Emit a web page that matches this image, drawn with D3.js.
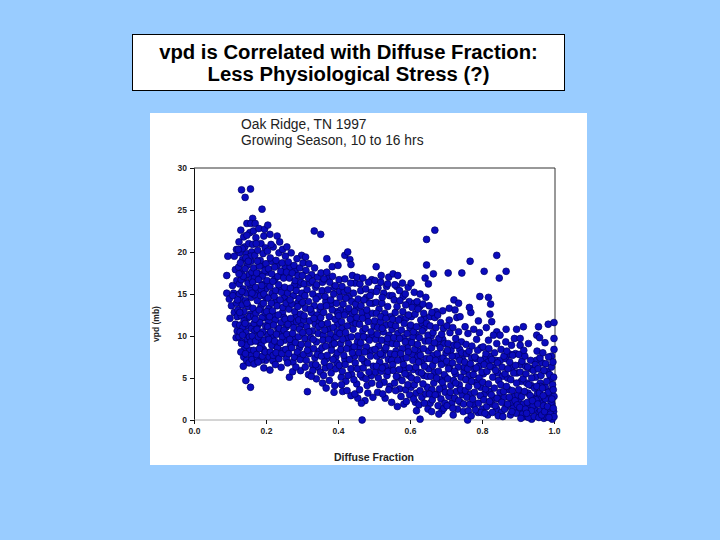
<!DOCTYPE html>
<html><head><meta charset="utf-8">
<script src="https://cdn.jsdelivr.net/npm/d3@7"></script>
<style>
html,body{margin:0;padding:0;background:#99ccff;}
svg{display:block;}
</style></head>
<body>
<svg id="c" width="720" height="540"></svg>
<script>
const titleLines = ["vpd is Correlated with Diffuse Fraction:", "Less Physiological Stress (?)"];
const subtitleLines = ["Oak Ridge, TN 1997", "Growing Season, 10 to 16 hrs"];
const xTicks = [0, 0.2, 0.4, 0.6, 0.8, 1.0];
const yTicks = [0, 5, 10, 15, 20, 25, 30];
const xLabel = "Diffuse Fraction";
const yLabel = "vpd (mb)";

// [diffuse fraction, vpd] pairs grouped by diffuse-fraction band
const band10 = [[0.091,17.2],[0.094,19.5],[0.112,19.5],[0.107,16.0],[0.091,15.1],[0.11,15.1],[0.098,14.4],[0.104,13.6],[0.112,12.8],[0.1,12.1],[0.115,11.4],[0.108,14.8],[0.118,13.9],[0.119,16.6],[0.115,17.9],[0.118,20.3],[0.12,10.6],[0.117,9.8],[0.12,12.3]];
const band12 = [[0.132,27.4],[0.157,27.5],[0.142,26.5],[0.163,24.0],[0.147,23.4],[0.158,23.4],[0.144,4.7],[0.157,3.9],[0.137,6.4],
[0.125,21.2],[0.13,22.6],[0.138,21.8],[0.141,20.6],[0.128,19.9],[0.135,19.1],[0.146,19.8],[0.152,21.0],[0.155,22.3],[0.148,18.4],[0.124,18.2],[0.132,17.5],[0.14,16.9],[0.153,17.3],[0.158,18.9],[0.126,16.2],[0.137,15.6],[0.145,15.1],[0.156,15.9],[0.129,14.5],[0.134,13.7],[0.143,14.2],[0.151,13.5],[0.159,14.6],[0.122,13.1],[0.131,12.4],[0.139,12.9],[0.148,12.1],[0.157,12.6],[0.127,11.3],[0.136,11.0],[0.144,10.4],[0.152,11.2],[0.16,10.9],[0.125,9.9],[0.133,9.3],[0.141,8.6],[0.149,9.6],[0.155,8.3],[0.13,8.1],[0.138,7.5],[0.146,7.1],[0.153,6.8],[0.159,7.7],[0.128,10.5],[0.15,16.3],[0.142,18.0],[0.134,20.4],[0.147,22.0],[0.126,15.0],[0.16,20.0],[0.16,16.8],[0.139,11.8],[0.154,9.9],[0.131,16.7],[0.157,19.5]];
const band16 = [[0.189,25.1],[0.17,23.4],[0.194,21.9],[0.167,6.67],[0.188,7.14],[0.194,6.2],
[0.165,22.5],[0.172,21.7],[0.18,22.8],[0.186,21.0],[0.198,20.5],[0.163,20.9],[0.169,19.6],[0.177,20.2],[0.184,19.0],[0.192,19.8],[0.2,18.6],[0.166,18.1],[0.174,17.5],[0.182,18.3],[0.19,17.1],[0.197,17.8],[0.163,16.4],[0.171,15.8],[0.179,16.7],[0.187,15.5],[0.195,16.2],[0.168,14.9],[0.176,14.2],[0.185,14.8],[0.193,13.9],[0.2,14.6],[0.164,13.3],[0.172,12.7],[0.181,13.1],[0.189,12.2],[0.197,12.8],[0.167,11.5],[0.175,10.8],[0.183,11.6],[0.191,10.5],[0.199,11.2],[0.162,10.0],[0.171,9.4],[0.179,9.9],[0.187,8.9],[0.195,9.5],[0.166,8.3],[0.174,7.8],[0.182,8.5],[0.19,7.6],[0.198,8.1],[0.178,6.9],[0.17,12.0],[0.188,16.0],[0.176,18.9],[0.194,15.0],[0.161,15.1],[0.185,10.2],[0.173,21.0],[0.196,22.7]];
const band20 = [[0.205,23.2],[0.231,21.9],[0.211,22.1],[0.209,7.5],[0.219,7.06],[0.211,5.95],[0.242,6.27],
[0.204,20.1],[0.212,19.3],[0.22,20.6],[0.228,19.0],[0.236,19.9],[0.245,18.7],[0.207,18.0],[0.216,17.4],[0.224,18.2],[0.233,17.1],[0.241,17.7],[0.249,16.9],[0.203,16.6],[0.211,15.9],[0.219,16.5],[0.227,15.4],[0.235,16.1],[0.243,15.2],[0.206,14.5],[0.215,13.9],[0.223,14.7],[0.231,13.6],[0.239,14.3],[0.247,13.4],[0.202,12.9],[0.21,12.3],[0.218,13.0],[0.226,11.9],[0.234,12.5],[0.242,11.6],[0.25,12.2],[0.205,11.1],[0.213,10.5],[0.221,11.3],[0.229,10.2],[0.237,10.9],[0.245,9.9],[0.208,9.6],[0.216,8.9],[0.224,9.4],[0.232,8.6],[0.24,9.2],[0.248,8.3],[0.212,8.1],[0.22,7.7],[0.228,8.0],[0.236,7.3],[0.244,7.9],[0.226,6.6],[0.25,10.7],[0.214,20.9],[0.238,21.2],[0.246,20.3]];
const band25 = [[0.265,5.1],[0.274,5.75],[0.296,5.87],[0.299,19.6],
[0.254,19.5],[0.262,18.8],[0.27,19.9],[0.278,18.4],[0.286,19.2],[0.294,18.1],[0.257,17.6],[0.265,16.9],[0.273,17.5],[0.281,16.6],[0.289,17.2],[0.297,16.4],[0.252,15.8],[0.26,15.1],[0.268,15.7],[0.276,14.8],[0.284,15.4],[0.292,14.5],[0.3,15.1],[0.256,13.9],[0.264,13.2],[0.272,13.8],[0.28,12.9],[0.288,13.5],[0.296,12.6],[0.253,12.0],[0.261,11.4],[0.269,12.1],[0.277,11.0],[0.285,11.7],[0.293,10.8],[0.258,10.2],[0.266,9.6],[0.274,10.3],[0.282,9.2],[0.29,9.9],[0.298,9.0],[0.255,8.4],[0.263,7.9],[0.271,8.6],[0.279,7.5],[0.287,8.1],[0.295,7.2],[0.283,6.3],[0.26,6.8],[0.291,11.9],[0.267,14.3],[0.258,20.6]];
const band30 = [[0.315,3.37],[0.334,22.5],[0.352,22.1],
[0.303,18.7],[0.311,17.8],[0.319,18.6],[0.327,17.3],[0.335,18.1],[0.343,17.0],[0.306,16.2],[0.314,15.5],[0.322,16.3],[0.33,15.0],[0.338,15.8],[0.346,14.7],[0.302,14.0],[0.31,13.3],[0.318,14.1],[0.326,12.8],[0.334,13.6],[0.342,12.5],[0.35,13.2],[0.305,11.9],[0.313,11.1],[0.321,11.8],[0.329,10.6],[0.337,11.4],[0.345,10.3],[0.308,9.7],[0.316,9.0],[0.324,9.8],[0.332,8.5],[0.34,9.3],[0.348,8.2],[0.304,7.8],[0.312,7.1],[0.32,7.9],[0.328,6.6],[0.336,7.4],[0.344,6.3],[0.318,5.4],[0.34,4.9],[0.33,5.9],[0.348,11.7],[0.31,19.4]];
const band35 = [[0.369,19.2],[0.384,18.25],[0.4,18.4],
[0.353,17.5],[0.361,16.8],[0.369,17.6],[0.377,16.4],[0.385,17.1],[0.393,16.0],[0.356,15.4],[0.364,14.7],[0.372,15.5],[0.38,14.3],[0.388,15.0],[0.396,13.9],[0.352,13.5],[0.36,12.8],[0.368,13.6],[0.376,12.3],[0.384,13.1],[0.392,12.0],[0.4,12.7],[0.355,11.4],[0.363,10.7],[0.371,11.5],[0.379,10.2],[0.387,11.0],[0.395,9.9],[0.358,9.5],[0.366,8.8],[0.374,9.6],[0.382,8.3],[0.39,9.1],[0.398,8.0],[0.354,7.6],[0.362,6.9],[0.37,7.7],[0.378,6.4],[0.386,7.2],[0.394,6.1],[0.36,5.3],[0.376,4.7],[0.391,4.1],[0.367,3.8],[0.398,10.5]];
const band40 = [[0.419,19.6],[0.427,20.0],[0.433,19.1],[0.436,18.5],
[0.403,16.7],[0.411,15.9],[0.419,16.8],[0.427,15.5],[0.435,16.3],[0.443,15.1],[0.406,14.6],[0.414,13.8],[0.422,14.5],[0.43,13.3],[0.438,14.1],[0.446,12.9],[0.402,12.4],[0.41,11.7],[0.418,12.5],[0.426,11.2],[0.434,12.0],[0.442,10.8],[0.45,11.5],[0.405,10.3],[0.413,9.6],[0.421,10.4],[0.429,9.1],[0.437,9.9],[0.445,8.7],[0.408,8.4],[0.416,7.7],[0.424,8.5],[0.432,7.2],[0.44,8.0],[0.448,6.8],[0.404,6.5],[0.412,5.8],[0.42,6.6],[0.428,5.3],[0.436,6.1],[0.444,4.8],[0.41,4.2],[0.425,3.5],[0.447,3.1],[0.449,13.8],[0.44,17.2]];
const band45 = [[0.467,0.0],[0.475,2.3],
[0.453,17.0],[0.461,16.2],[0.469,16.9],[0.477,15.6],[0.485,16.4],[0.493,15.2],[0.456,14.4],[0.464,13.6],[0.472,14.3],[0.48,13.1],[0.488,13.9],[0.496,12.7],[0.452,12.2],[0.46,11.4],[0.468,12.1],[0.476,10.9],[0.484,11.7],[0.492,10.5],[0.5,11.2],[0.455,10.0],[0.463,9.2],[0.471,9.9],[0.479,8.7],[0.487,9.5],[0.495,8.3],[0.458,8.0],[0.466,7.3],[0.474,8.1],[0.482,6.8],[0.49,7.6],[0.498,6.4],[0.454,6.1],[0.462,5.4],[0.47,6.2],[0.478,4.9],[0.486,5.7],[0.494,4.4],[0.46,3.6],[0.483,3.2],[0.497,2.7],[0.465,2.0],[0.489,14.8]];
const band50 = [[0.506,18.25],
[0.503,16.6],[0.511,15.7],[0.519,16.4],[0.527,15.1],[0.535,15.9],[0.543,14.8],[0.506,14.0],[0.514,13.2],[0.522,13.9],[0.53,12.7],[0.538,13.5],[0.546,12.3],[0.502,11.8],[0.51,11.0],[0.518,11.7],[0.526,10.5],[0.534,11.3],[0.542,10.1],[0.55,10.8],[0.505,9.6],[0.513,8.8],[0.521,9.5],[0.529,8.3],[0.537,9.1],[0.545,7.9],[0.508,7.6],[0.516,6.9],[0.524,7.7],[0.532,6.4],[0.54,7.2],[0.548,6.0],[0.504,5.7],[0.512,5.0],[0.52,5.8],[0.528,4.5],[0.536,5.3],[0.544,4.0],[0.51,3.3],[0.531,2.6],[0.549,2.1],[0.52,17.2],[0.541,17.0]];
const band55 = [[0.553,17.4],[0.566,17.2],[0.558,16.1],[0.571,15.4],[0.579,16.3],[0.587,15.0],[0.595,15.8],[0.556,14.3],[0.564,13.5],[0.572,14.2],[0.58,12.9],[0.588,13.7],[0.596,12.5],[0.552,12.0],[0.56,11.2],[0.568,11.9],[0.576,10.7],[0.584,11.5],[0.592,10.3],[0.6,11.0],[0.555,9.8],[0.563,9.0],[0.571,9.7],[0.579,8.5],[0.587,9.3],[0.595,8.1],[0.558,7.8],[0.566,7.1],[0.574,7.9],[0.582,6.6],[0.59,7.4],[0.598,6.2],[0.554,5.9],[0.562,5.2],[0.57,6.0],[0.578,4.7],[0.586,5.5],[0.594,4.2],[0.56,3.5],[0.575,2.8],[0.59,2.2],[0.599,3.0],[0.565,1.6]];
const band60 = [[0.646,21.5],[0.646,18.45],[0.642,16.9],[0.651,16.2],[0.628,0.1],
[0.603,16.3],[0.612,15.2],[0.62,14.1],[0.628,15.0],[0.636,13.8],[0.644,14.6],[0.606,13.4],[0.614,12.6],[0.622,13.2],[0.63,11.9],[0.638,12.7],[0.646,11.5],[0.602,11.3],[0.61,10.5],[0.618,11.1],[0.626,9.8],[0.634,10.6],[0.642,9.4],[0.65,10.1],[0.605,9.2],[0.613,8.4],[0.621,9.0],[0.629,7.7],[0.637,8.5],[0.645,7.3],[0.608,7.1],[0.616,6.3],[0.624,6.9],[0.632,5.6],[0.64,6.4],[0.648,5.2],[0.604,5.0],[0.612,4.2],[0.62,4.8],[0.628,3.5],[0.636,4.3],[0.644,3.1],[0.61,2.5],[0.625,1.8],[0.64,2.0],[0.65,1.3],[0.618,1.1]];
const band65 = [[0.669,12.2],[0.691,13.0],[0.665,17.4],[0.669,22.6],
[0.653,13.6],[0.661,12.8],[0.677,12.5],[0.685,11.6],[0.693,10.9],[0.656,11.2],[0.664,10.4],[0.672,11.0],[0.68,9.7],[0.688,10.2],[0.696,9.1],[0.652,9.4],[0.66,8.6],[0.668,9.2],[0.676,7.9],[0.684,8.6],[0.692,7.4],[0.7,8.0],[0.655,7.3],[0.663,6.5],[0.671,7.1],[0.679,5.8],[0.687,6.6],[0.695,5.4],[0.658,5.2],[0.666,4.4],[0.674,5.0],[0.682,3.7],[0.69,4.5],[0.698,3.3],[0.654,3.1],[0.662,2.4],[0.67,3.0],[0.678,1.7],[0.686,2.5],[0.694,1.4],[0.66,1.0],[0.68,0.7],[0.697,2.0]];
const band70 = [[0.706,17.5],[0.744,17.5],[0.709,13.3],[0.73,12.2],[0.709,11.9],[0.722,14.3],[0.735,13.9],
[0.703,11.2],[0.711,10.4],[0.719,11.0],[0.727,9.7],[0.735,10.5],[0.743,9.3],[0.706,9.1],[0.714,8.3],[0.722,8.9],[0.73,7.6],[0.738,8.4],[0.746,7.2],[0.702,7.0],[0.71,6.2],[0.718,6.8],[0.726,5.5],[0.734,6.3],[0.742,5.1],[0.75,5.8],[0.705,4.9],[0.713,4.1],[0.721,4.7],[0.729,3.4],[0.737,4.2],[0.745,3.0],[0.708,2.8],[0.716,2.0],[0.724,2.6],[0.732,1.3],[0.74,2.1],[0.748,1.0],[0.72,0.6],[0.739,12.3],[0.725,13.1]];
const band75 = [[0.767,18.9],[0.794,14.7],[0.769,12.8],[0.76,0.0],
[0.753,11.1],[0.761,10.3],[0.777,10.8],[0.785,9.6],[0.793,10.4],[0.756,9.0],[0.764,8.2],[0.772,8.8],[0.78,7.5],[0.788,8.3],[0.796,7.1],[0.752,6.9],[0.76,6.1],[0.768,6.7],[0.776,5.4],[0.784,6.2],[0.792,5.0],[0.8,5.7],[0.755,4.8],[0.763,4.0],[0.771,4.6],[0.779,3.3],[0.787,4.1],[0.795,2.9],[0.758,2.7],[0.766,1.9],[0.774,2.5],[0.782,1.2],[0.79,2.0],[0.798,0.9],[0.77,0.5],[0.79,11.8],[0.765,13.4]];
const band80 = [[0.841,19.6],[0.806,17.7],[0.848,16.9],[0.818,14.6],[0.824,13.8],[0.822,12.6],[0.827,11.7],[0.841,10.5],[0.85,10.1],[0.818,9.5],[0.841,9.1],
[0.803,8.7],[0.811,7.9],[0.819,8.5],[0.827,7.2],[0.835,8.0],[0.843,6.8],[0.806,6.6],[0.814,5.8],[0.822,6.4],[0.83,5.1],[0.838,5.9],[0.846,4.7],[0.802,4.5],[0.81,3.7],[0.818,4.3],[0.826,3.0],[0.834,3.8],[0.842,2.6],[0.85,3.3],[0.805,2.4],[0.813,1.6],[0.821,2.2],[0.829,0.9],[0.837,1.7],[0.845,0.5],[0.808,0.8],[0.832,10.1],[0.812,11.0]];
const band85 = [[0.867,17.7],[0.867,10.8],[0.896,10.8],[0.882,8.9],
[0.853,8.4],[0.861,7.6],[0.869,8.2],[0.877,6.9],[0.885,7.7],[0.893,6.5],[0.856,6.3],[0.864,5.5],[0.872,6.1],[0.88,4.8],[0.888,5.6],[0.896,4.4],[0.852,4.2],[0.86,3.4],[0.868,4.0],[0.876,2.7],[0.884,3.5],[0.892,2.3],[0.9,3.0],[0.855,2.1],[0.863,1.3],[0.871,1.9],[0.879,0.6],[0.887,1.4],[0.895,0.8],[0.858,0.4],[0.883,1.0],[0.898,1.8],[0.866,9.3],[0.89,9.7]];
const band90 = [[0.915,11.1],[0.906,9.7],[0.906,8.9],[0.929,9.1],[0.952,10.1],[0.957,11.1],
[0.903,7.8],[0.911,7.0],[0.919,7.6],[0.927,6.3],[0.935,7.1],[0.943,5.9],[0.906,5.7],[0.914,4.9],[0.922,5.5],[0.93,4.2],[0.938,5.0],[0.946,3.8],[0.902,3.6],[0.91,2.8],[0.918,3.4],[0.926,2.1],[0.934,2.9],[0.942,1.7],[0.95,2.4],[0.905,1.5],[0.913,0.7],[0.921,1.3],[0.929,0.3],[0.937,1.1],[0.945,0.4],[0.908,0.2],[0.924,0.8],[0.94,2.3],[0.948,6.6],[0.916,8.3]];
const band95 = [[0.984,11.4],[1.0,11.6],[1.0,9.7],
[0.953,8.2],[0.961,7.4],[0.969,8.0],[0.977,6.7],[0.985,7.5],[0.993,6.3],[0.956,6.1],[0.964,5.3],[0.972,5.9],[0.98,4.6],[0.988,5.4],[0.996,4.2],[0.952,4.0],[0.96,3.2],[0.968,3.8],[0.976,2.5],[0.984,3.3],[0.992,2.1],[1.0,2.8],[0.955,1.9],[0.963,1.1],[0.971,1.7],[0.979,0.4],[0.987,1.2],[0.995,0.1],[0.958,0.3],[0.966,0.6],[0.974,1.0],[0.982,1.6],[0.99,0.7],[0.998,1.4],[1.0,0.4],[0.998,3.6],[0.999,5.1],[0.997,6.9],[0.975,9.2],[0.96,9.8],[1.0,8.4],[0.994,2.5],[0.986,0.3],[0.97,2.9]];

// additional readings filling the dense core
const fillA = [[0.123,20.3],[0.129,18.7],[0.144,19.3],[0.151,18.9],[0.137,17.1],[0.161,17.6],[0.168,16.9],[0.181,17.4],[0.192,18.4],[0.203,17.6],[0.214,18.9],[0.225,16.8],[0.231,18.4],[0.244,17.2],[0.253,18.1],[0.267,18.2],[0.282,17.9],[0.291,16.1],[0.133,15.3],[0.147,13.9],[0.158,15.4],[0.175,15.2],[0.186,13.5],[0.199,15.6],[0.208,13.3],[0.217,15.1],[0.229,14.2],[0.238,15.7],[0.251,14.6],[0.262,14.1],[0.279,16.1],[0.289,14.0],[0.298,13.8],[0.127,12.8],[0.142,11.5],[0.155,12.3],[0.166,12.4],[0.178,11.3],[0.195,12.2],[0.207,11.7],[0.221,12.5],[0.233,10.8],[0.246,12.8],[0.257,11.1],[0.271,11.6],[0.284,12.4],[0.297,11.3],[0.135,10.1],[0.146,8.9],[0.158,9.3],[0.169,10.6],[0.183,9.2],[0.193,8.4],[0.204,10.2],[0.218,9.8],[0.227,8.8],[0.241,10.3],[0.252,9.5],[0.268,8.9],[0.278,9.7],[0.293,8.6],[0.143,7.9],[0.161,7.2],[0.176,7.4],[0.199,7.1],[0.231,7.5],[0.257,7.3],[0.275,6.9],[0.288,7.6],[0.132,9.1],[0.121,14.3],[0.125,17.4]];
const fillB = [[0.301,17.2],[0.318,16.9],[0.329,16.5],[0.341,16.1],[0.357,16.4],[0.372,16.9],[0.389,15.8],[0.404,15.3],[0.417,15.3],[0.431,14.7],[0.447,16.3],[0.463,15.4],[0.479,14.6],[0.494,16.7],[0.308,14.8],[0.323,13.2],[0.339,14.4],[0.352,12.2],[0.366,14.1],[0.381,13.8],[0.397,12.9],[0.408,13.1],[0.423,12.9],[0.439,12.6],[0.451,13.3],[0.467,12.8],[0.482,12.4],[0.497,13.9],[0.306,12.4],[0.319,10.5],[0.333,12.1],[0.346,11.1],[0.359,10.1],[0.373,10.8],[0.386,9.7],[0.399,11.4],[0.411,10.9],[0.426,9.8],[0.441,11.6],[0.454,9.3],[0.469,10.6],[0.481,9.8],[0.496,10.1],[0.302,10.4],[0.315,8.3],[0.331,9.6],[0.343,7.8],[0.356,8.6],[0.368,7.3],[0.383,8.9],[0.394,7.5],[0.407,9.1],[0.419,7.2],[0.433,8.6],[0.446,7.6],[0.459,8.7],[0.473,7.0],[0.488,8.2],[0.309,6.3],[0.326,5.2],[0.338,6.6],[0.351,5.7],[0.365,6.2],[0.381,5.6],[0.397,6.8],[0.409,5.1],[0.422,4.6],[0.438,5.4],[0.452,4.3],[0.468,5.1],[0.481,4.1],[0.493,5.3],[0.357,4.4],[0.413,3.4],[0.436,2.9],[0.455,2.6],[0.389,3.3]];
const fillC = [[0.507,15.3],[0.523,14.6],[0.538,16.2],[0.551,14.8],[0.563,15.9],[0.581,14.7],[0.598,14.1],[0.612,13.9],[0.627,13.5],[0.64,12.2],[0.507,12.7],[0.519,12.3],[0.533,12.1],[0.547,11.4],[0.559,12.8],[0.574,12.1],[0.589,12.1],[0.604,12.3],[0.617,10.2],[0.633,11.4],[0.656,12.3],[0.672,12.9],[0.509,10.2],[0.523,10.9],[0.538,9.7],[0.551,9.1],[0.566,10.3],[0.582,9.8],[0.597,9.4],[0.608,9.9],[0.623,8.2],[0.639,10.9],[0.659,10.0],[0.677,9.1],[0.691,9.6],[0.503,8.4],[0.518,7.9],[0.533,8.6],[0.549,7.1],[0.561,8.2],[0.578,7.2],[0.593,8.6],[0.607,7.8],[0.621,7.5],[0.633,6.9],[0.651,8.2],[0.664,7.7],[0.683,7.3],[0.698,6.8],[0.507,6.4],[0.523,6.2],[0.539,5.8],[0.552,6.6],[0.567,5.1],[0.583,5.9],[0.597,5.3],[0.609,6.0],[0.624,5.7],[0.638,5.3],[0.652,6.1],[0.668,5.7],[0.684,4.8],[0.699,5.1],[0.515,4.2],[0.541,3.6],[0.557,4.4],[0.571,3.7],[0.588,3.6],[0.603,3.9],[0.617,3.2],[0.633,2.7],[0.648,3.9],[0.661,3.6],[0.676,3.1],[0.693,3.9],[0.524,3.1],[0.583,1.9],[0.615,2.1],[0.656,2.0],[0.689,1.1]];
const fillD = [[0.704,8.3],[0.717,7.6],[0.731,8.9],[0.744,8.0],[0.757,7.9],[0.771,7.4],[0.784,7.3],[0.797,8.6],[0.809,7.4],[0.823,7.6],[0.839,7.1],[0.851,7.1],[0.866,7.3],[0.879,7.8],[0.893,7.9],[0.907,6.6],[0.921,6.4],[0.936,6.1],[0.951,7.1],[0.967,6.8],[0.982,5.8],[0.993,7.6],[0.707,6.1],[0.723,5.8],[0.738,7.1],[0.751,6.3],[0.764,5.3],[0.779,6.1],[0.791,6.4],[0.804,5.5],[0.817,6.9],[0.831,6.3],[0.844,5.6],[0.857,5.2],[0.871,5.0],[0.883,6.2],[0.897,5.6],[0.909,4.6],[0.924,4.4],[0.937,4.1],[0.949,5.1],[0.962,4.4],[0.976,3.9],[0.991,4.9],[0.712,3.3],[0.727,4.4],[0.741,3.6],[0.754,3.5],[0.768,3.1],[0.783,4.5],[0.796,3.9],[0.807,3.1],[0.821,3.4],[0.835,2.6],[0.848,2.5],[0.862,2.7],[0.875,3.6],[0.889,2.8],[0.903,2.5],[0.915,1.9],[0.928,3.2],[0.941,2.6],[0.954,3.1],[0.967,2.1],[0.979,2.9],[0.992,3.5],[0.703,1.7],[0.719,1.4],[0.735,2.3],[0.749,1.9],[0.762,1.1],[0.777,1.8],[0.789,0.9],[0.801,1.3],[0.816,0.6],[0.827,1.9],[0.841,1.3],[0.854,0.9],[0.868,1.6],[0.881,2.0],[0.893,1.1],[0.906,0.9],[0.919,0.4],[0.933,1.8],[0.947,1.2],[0.959,0.9],[0.972,0.2],[0.983,0.8],[0.994,1.9],[0.999,1.0],[0.938,0.1],[0.957,2.6],[0.989,2.8],[0.963,4.0]];

const points = [].concat(band10, band12, fillA, band16, band20, band25, band30, fillB, band35, band40, band45, band50, fillC, band55, band60, band65, band70, fillD, band75, band80, band85, band90, band95);

const svg = d3.select("#c");
const font = "'Liberation Sans', Arial, sans-serif";

// title box
svg.append("rect").attr("x", 132.5).attr("y", 34.5).attr("width", 432).attr("height", 56)
  .attr("fill", "#fff").attr("stroke", "#000").attr("stroke-width", 1);
svg.selectAll("text.title").data(titleLines).join("text").attr("class", "title")
  .attr("x", 348.5).attr("y", (d, i) => 59 + i * 22)
  .attr("text-anchor", "middle").attr("font-family", font).attr("font-weight", "bold")
  .attr("font-size", 20.3).attr("fill", "#000").text(d => d);

// white chart panel
svg.append("rect").attr("x", 150).attr("y", 113).attr("width", 437).attr("height", 352).attr("fill", "#fff");

svg.selectAll("text.sub").data(subtitleLines).join("text").attr("class", "sub")
  .attr("x", 241).attr("y", (d, i) => 128.5 + i * 16)
  .attr("font-family", font).attr("font-size", 13.8).attr("fill", "#222").text(d => d);

const x = d3.scaleLinear().domain([0, 1]).range([194, 554]);
const y = d3.scaleLinear().domain([0, 30]).range([420, 168]);

// frame (top & right)
svg.append("path").attr("d", `M${x(0)},${y(30)}H${x(1)+1}V${y(0)}`)
  .attr("fill", "none").attr("stroke", "#333").attr("stroke-width", 1);

const yAxis = svg.append("g").attr("transform", `translate(${x(0)},0)`)
  .call(d3.axisLeft(y).tickValues(yTicks).tickSize(4).tickPadding(3).tickFormat(d3.format("d")));
yAxis.select(".domain").attr("stroke", "#111");
yAxis.selectAll("line").attr("stroke", "#111");
yAxis.selectAll("text").attr("font-family", font).attr("font-weight", "bold").attr("font-size", 8.5).attr("fill", "#222");

const xAxis = svg.append("g").attr("transform", `translate(0,${y(0)})`)
  .call(d3.axisBottom(x).tickValues(xTicks).tickSize(4).tickPadding(4).tickFormat(d3.format(".1f")));
xAxis.select(".domain").attr("stroke", "#aaa").attr("d", `M${x(0)},0H${x(1)+1}`);
xAxis.selectAll("line").attr("stroke", "#111");
xAxis.selectAll("text").attr("font-family", font).attr("font-weight", "bold").attr("font-size", 8.5).attr("fill", "#222");

svg.append("text").attr("x", 374).attr("y", 461).attr("text-anchor", "middle")
  .attr("font-family", font).attr("font-weight", "bold").attr("font-size", 10.5).attr("fill", "#222").text(xLabel);
svg.append("text").attr("transform", "translate(159,324) rotate(-90)").attr("text-anchor", "middle")
  .attr("font-family", font).attr("font-weight", "bold").attr("font-size", 8.5).attr("fill", "#222").text(yLabel);

svg.append("g").selectAll("circle").data(points).join("circle")
  .attr("cx", d => x(d[0])).attr("cy", d => y(d[1])).attr("r", 3.4)
  .attr("fill", "#0b0bbd").attr("stroke", "#000066").attr("stroke-width", 0.7);
</script>
</body></html>
